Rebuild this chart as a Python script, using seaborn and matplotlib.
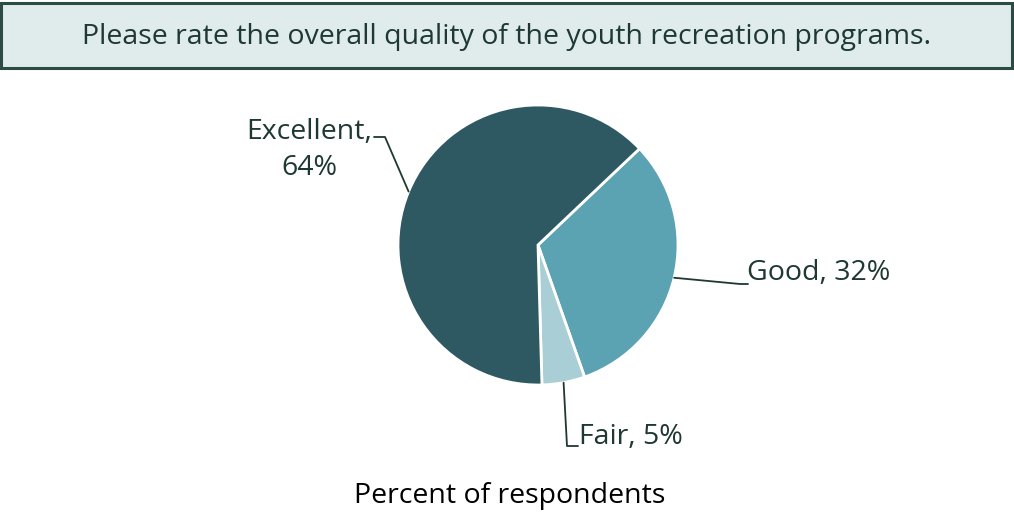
import numpy as np
import matplotlib
matplotlib.use("Agg")
import matplotlib.pyplot as plt
import seaborn as sns
from matplotlib.patches import Rectangle

# data
categories = ["Good", "Fair", "Excellent"]
percents = [32, 5, 64]
colors = ["#5BA2B3", "#A9CED6", "#2F5962"]
title = "Please rate the overall quality of the youth recreation programs."
xlabel = "Percent of respondents"

sns.set_theme(style="white")
plt.rcParams['font.family'] = ['Open Sans', 'DejaVu Sans']
txt_col = "#1E3833"
fs = 20.5

W, H = 1014, 516
fig = plt.figure(figsize=(W / 100, H / 100), dpi=100)
ax = fig.add_axes([0, 0, 1, 1])
ax.set_xlim(0, W)
ax.set_ylim(0, H)
ax.set_aspect("equal")
ax.axis("off")

cx, cy, r = 538, H - 245, 140
wedges, _ = ax.pie(percents, colors=colors, startangle=43.5, counterclock=False,
                   center=(cx, cy), radius=r, normalize=True,
                   wedgeprops=dict(edgecolor="white", linewidth=2))
ax.set_xlim(0, W)
ax.set_ylim(0, H)

# title box
ax.add_patch(Rectangle((1, H - 68), 1011, 65, facecolor="#E0ECEC", edgecolor="#2D4B45", linewidth=2.2))
ax.text(W / 2, H - 37, title, ha="center", va="center", fontsize=fs, color=txt_col)

# leader lines: (elbow, end, text pos, ha)
leaders = {
    "Excellent": ((385, 137), (374, 137), (372, 150), "right"),
    "Good": ((740, 284), (748, 284), (747, 273), "left"),
    "Fair": ((567, 446), (578, 446), (579, 437), "left"),
}
for w, cat, p in zip(wedges, categories, percents):
    ang = np.deg2rad((w.theta1 + w.theta2) / 2)
    sx, sy = cx + r * np.cos(ang), cy + r * np.sin(ang)
    (ex, ey), (tx, ty), (lx, ly), ha = leaders[cat]
    ax.plot([sx, ex, tx], [sy, H - ey, H - ty], color=txt_col, lw=1.3)
    label = f"{cat},\n{p}%" if cat == "Excellent" else f"{cat}, {p}%"
    ax.text(lx, H - ly, label, ha=ha, va="center", multialignment="center",
            fontsize=fs, color=txt_col, linespacing=1.4)

ax.text(510, H - 496, xlabel, ha="center", va="center", fontsize=fs, color="black")

fig.savefig("out.png", dpi=100)
